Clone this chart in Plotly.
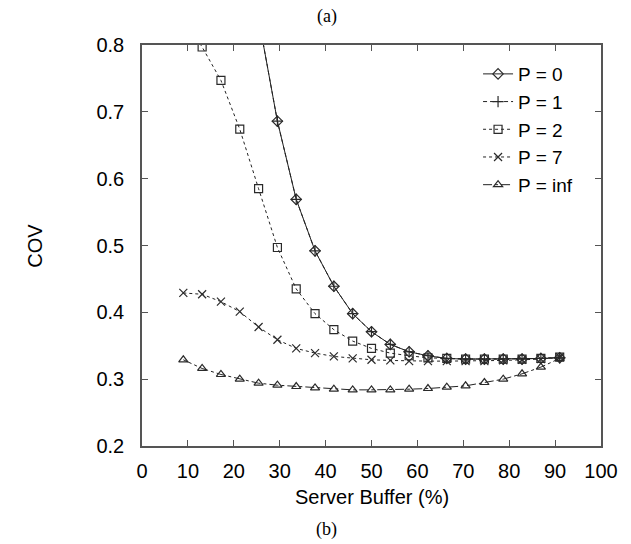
import plotly.graph_objects as go

x_vals = [9.0, 13.1, 17.2, 21.3, 25.4, 29.5, 33.6, 37.7, 41.8, 45.9, 50.0,
          54.1, 58.2, 62.3, 66.4, 70.5, 74.6, 78.7, 82.8, 86.9, 91.0]

p0 = [None, None, None, 1.02, 0.84, 0.686, 0.569, 0.492, 0.439, 0.398, 0.371,
      0.352, 0.341, 0.335, 0.331, 0.330, 0.330, 0.330, 0.330, 0.331, 0.332]
p1 = [None, None, None, 1.02, 0.84, 0.686, 0.569, 0.492, 0.439, 0.398, 0.371,
      0.352, 0.341, 0.335, 0.331, 0.330, 0.330, 0.330, 0.330, 0.331, 0.332]
p2 = [0.84, 0.797, 0.747, 0.674, 0.585, 0.497, 0.435, 0.398, 0.374, 0.357, 0.346,
      0.339, 0.335, 0.332, 0.331, 0.330, 0.330, 0.330, 0.330, 0.331, 0.333]
p7 = [0.429, 0.427, 0.416, 0.401, 0.378, 0.359, 0.346, 0.339, 0.334, 0.331, 0.329,
      0.328, 0.327, 0.327, 0.327, 0.327, 0.327, 0.328, 0.329, 0.330, 0.333]
pinf = [0.329, 0.316, 0.307, 0.300, 0.294, 0.291, 0.289, 0.287, 0.285, 0.284, 0.284,
        0.284, 0.285, 0.286, 0.288, 0.290, 0.295, 0.300, 0.308, 0.318, 0.331]

series = [
    ("P = 0", p0, "solid", "diamond-open"),
    ("P = 1", p1, "4px,3px", "cross-thin"),
    ("P = 2", p2, "3px,3px", "square-open"),
    ("P = 7", p7, "dot", "x-thin"),
    ("P = inf", pinf, "dashdot", "triangle-up-open"),
]

fig = go.Figure()
for name, ys, dash, sym in series:
    fig.add_trace(go.Scatter(
        x=x_vals, y=ys, name=name, mode="lines+markers",
        line=dict(color="#222222", width=1, dash=dash),
        marker=dict(symbol=sym, size=8, color="#2a2a2a",
                    line=dict(width=1.2, color="#2a2a2a")),
        connectgaps=False,
    ))

font_sans = "Liberation Sans, Arial, sans-serif"
font_serif = "Liberation Serif, Times New Roman, serif"
axis_common = dict(
    showline=True, linecolor="#555555", linewidth=1.5, mirror="ticks",
    ticks="inside", ticklen=6, tickcolor="#555555", tickwidth=1,
    showgrid=False, zeroline=False,
    tickfont=dict(family=font_sans, size=20, color="black"),
)
fig.update_xaxes(range=[0, 100], dtick=10, tick0=0, ticklabelstandoff=6, **axis_common)
fig.update_yaxes(range=[0.2, 0.8], dtick=0.1, tick0=0.2, tickformat=".1f",
                 ticklabelstandoff=12, **axis_common)

fig.update_layout(
    width=631, height=544,
    margin=dict(l=142, r=30, t=45, b=98),
    plot_bgcolor="white", paper_bgcolor="white",
    showlegend=True,
    legend=dict(x=0.95, y=0.975, xanchor="right", yanchor="top",
                bgcolor="rgba(0,0,0,0)", font=dict(family=font_sans, size=19, color="black"),
                tracegroupgap=0, itemwidth=30),
    annotations=[
        dict(text="COV", xref="paper", yref="paper", x=-0.235, y=0.5, yanchor="middle",
             xanchor="center", showarrow=False, textangle=-90,
             font=dict(family=font_sans, size=20, color="black")),
        dict(text="Server Buffer (%)", xref="paper", yref="paper", x=0.5, y=-0.127,
             yanchor="middle", xanchor="center", showarrow=False,
             font=dict(family=font_sans, size=20, color="black")),
        dict(text="(a)", xref="paper", yref="paper", x=0.403, y=1.072, yanchor="middle",
             xanchor="center", showarrow=False,
             font=dict(family=font_serif, size=18, color="black")),
        dict(text="(b)", xref="paper", yref="paper", x=0.403, y=-0.209, yanchor="middle",
             xanchor="center", showarrow=False,
             font=dict(family=font_serif, size=18, color="black")),
    ],
)

fig.write_html("out.html")
